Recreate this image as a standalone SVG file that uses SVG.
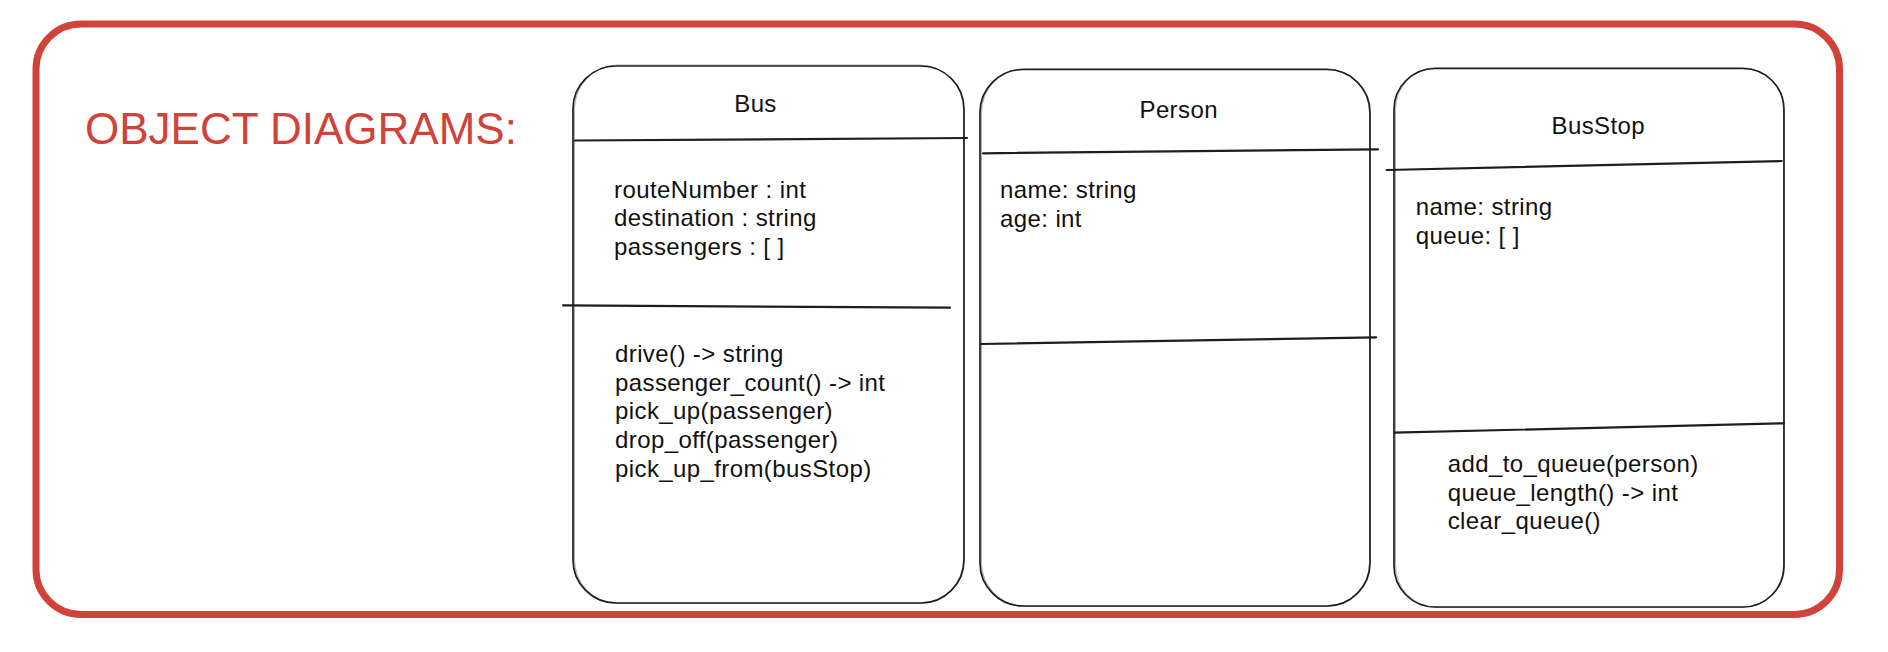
<svg xmlns="http://www.w3.org/2000/svg" width="1888" height="652" viewBox="0 0 1888 652">
  <style>
    .frame { fill: none; stroke: #d1433a; stroke-width: 7; stroke-linejoin: round; }
    .title { font-family: "Liberation Sans", Arial, sans-serif; font-size: 44px; fill: #d1433a; }
    .box { fill: #ffffff; stroke: #1e1e1e; stroke-width: 1.7; }
    .sketch { fill: none; stroke: #1e1e1e; stroke-width: 0.8; opacity: 0.45; }
    .div { stroke: #1e1e1e; stroke-width: 2.2; stroke-linecap: round; }
    .hdr { font-family: "Liberation Sans", Arial, sans-serif; font-size: 24px; fill: #111111; text-anchor: middle; letter-spacing: 0.4px; }
    .txt { font-family: "Liberation Sans", Arial, sans-serif; font-size: 24px; fill: #111111; letter-spacing: 0.4px; }
  </style>

  <g id="frame">
    <rect class="frame" x="36" y="24" width="1803.5" height="590.5" rx="45" ry="45"/>
    <text class="title" x="85" y="144">OBJECT DIAGRAMS:</text>
  </g>

  <g id="bus">
    <rect class="box" x="573" y="66" width="391" height="537" rx="43" ry="43"/>
    <rect class="sketch" x="574.5" y="65" width="389" height="538.5" rx="44" ry="44"/>
    <line class="div" x1="575" y1="140.5" x2="967" y2="138"/>
    <line class="div" x1="563" y1="305.3" x2="950" y2="307.7"/>
    <text class="hdr" x="755.5" y="111.7">Bus</text>
    <text class="txt" x="614" y="197.7">routeNumber : int</text>
    <text class="txt" x="614" y="226.4">destination : string</text>
    <text class="txt" x="614" y="255.1">passengers : [ ]</text>
    <text class="txt" x="615" y="361.7">drive() -&gt; string</text>
    <text class="txt" x="615" y="390.5">passenger_count() -&gt; int</text>
    <text class="txt" x="615" y="419.2">pick_up(passenger)</text>
    <text class="txt" x="615" y="448">drop_off(passenger)</text>
    <text class="txt" x="615" y="476.7">pick_up_from(busStop)</text>
  </g>

  <g id="person">
    <rect class="box" x="980" y="69.5" width="390" height="536.5" rx="43" ry="43"/>
    <rect class="sketch" x="981.5" y="68.5" width="388" height="538" rx="44" ry="44"/>
    <line class="div" x1="983" y1="153.3" x2="1378" y2="149.3"/>
    <line class="div" x1="980.7" y1="344" x2="1376" y2="337.3"/>
    <text class="hdr" x="1178.7" y="118.3">Person</text>
    <text class="txt" x="1000" y="197.7">name: string</text>
    <text class="txt" x="1000" y="226.7">age: int</text>
  </g>

  <g id="busstop">
    <rect class="box" x="1394" y="68.5" width="390" height="538.5" rx="41" ry="41"/>
    <rect class="sketch" x="1395.5" y="67.5" width="388" height="540" rx="42" ry="42"/>
    <line class="div" x1="1386.7" y1="170" x2="1781.7" y2="161"/>
    <line class="div" x1="1394" y1="432.7" x2="1784" y2="423.3"/>
    <text class="hdr" x="1598.3" y="134">BusStop</text>
    <text class="txt" x="1415.7" y="215">name: string</text>
    <text class="txt" x="1415.7" y="244">queue: [ ]</text>
    <text class="txt" x="1447.7" y="471.7">add_to_queue(person)</text>
    <text class="txt" x="1447.7" y="500.5">queue_length() -&gt; int</text>
    <text class="txt" x="1447.7" y="529.3">clear_queue()</text>
  </g>

  <g id="connectors"></g>
</svg>
